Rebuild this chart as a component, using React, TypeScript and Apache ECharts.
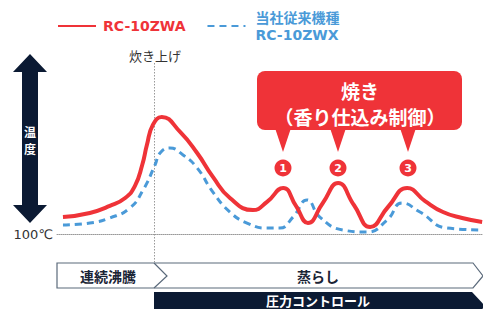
import React, { useEffect, useRef } from "react";
import * as echarts from "echarts";

// relative time (0-100) and relative temperature above 100℃ (0-100)
const redX = [1.4, 7.7, 12.4, 16.0, 18.3, 20.0, 21.1, 22.5, 24.6, 28.9, 32.9, 36.6, 40.6, 46.0, 49.3, 53.1, 56.1, 58.9, 62.4, 66.0, 69.7, 73.5, 77.7, 82.2, 86.4, 90.6, 95.1, 99.8];
const redY = [9.4, 11.7, 15.6, 20.0, 26.7, 38.3, 49.4, 60.6, 65.0, 56.7, 45.0, 31.7, 20.0, 13.3, 17.8, 25.6, 15.6, 6.1, 17.2, 28.3, 16.1, 3.9, 15.0, 25.6, 18.3, 12.2, 8.9, 6.7];
const blueX = [1.4, 7.7, 12.4, 17.1, 20.2, 23.0, 24.2, 26.5, 29.6, 32.9, 36.6, 40.6, 44.6, 49.3, 52.3, 55.4, 58.7, 61.7, 67.1, 72.8, 77.5, 81.0, 85.2, 91.5, 99.8];
const blueY = [5.0, 6.1, 8.9, 14.4, 24.4, 38.3, 45.0, 47.8, 43.9, 36.7, 23.3, 12.2, 6.1, 3.3, 3.3, 9.4, 18.9, 9.4, 2.2, 1.1, 7.8, 17.2, 12.2, 3.3, 2.2];

const seriesNames = ["RC-10ZWA", "当社従来機種\nRC-10ZWX"];
const baseLabel = "100℃";
const startLabel = "炊き上げ";
const calloutTitle = "焼き";
const calloutSub = "（香り仕込み制御）";
const markerNums = ["1", "2", "3"];
const phaseLabels = ["連続沸騰", "蒸らし"];
const pressureLabel = "圧力コントロール";
const axisLabelChars = ["温", "度"];

const RED = "#ef3338";
const BLUE = "#4a9ad8";
const NAVY = "#0b1a33";
const JP = "'Noto Sans CJK JP', sans-serif";

export default function App() {
  const ref = useRef<HTMLDivElement>(null);
  useEffect(() => {
    if (!ref.current) return;
    const chart = echarts.init(ref.current, undefined, { renderer: "svg" });
    const red = redX.map((x, i) => [x, redY[i]]);
    const blue = blueX.map((x, i) => [x, blueY[i]]);
    const markerXs = [283, 338, 408];
    const graphic: any[] = [
      // double arrow
      {
        type: "polygon",
        shape: {
          points: [
            [30, 54], [47, 72], [38, 72], [38, 205], [47, 205], [30, 223],
            [13, 205], [22, 205], [22, 72], [13, 72],
          ],
        },
        style: { fill: NAVY },
      },
      {
        type: "text", x: 30, y: 131,
        style: { text: axisLabelChars[0], fill: "#fff", font: `bold 12px ${JP}`, align: "center", verticalAlign: "middle" },
      },
      {
        type: "text", x: 30, y: 148,
        style: { text: axisLabelChars[1], fill: "#fff", font: `bold 12px ${JP}`, align: "center", verticalAlign: "middle" },
      },
      // start-of-cooking line
      {
        type: "line",
        shape: { x1: 154.5, y1: 63, x2: 154.5, y2: 262 },
        style: { stroke: "#999", lineWidth: 1, lineDash: [1.5, 1.5] },
        z: 1,
      },
      {
        type: "text", x: 155, y: 55,
        style: { text: startLabel, fill: "#333", font: `13px ${JP}`, align: "center", verticalAlign: "middle" },
      },
      // callout
      {
        type: "rect",
        shape: { x: 257, y: 71, width: 205, height: 59, r: 8 },
        style: { fill: RED },
      },
      ...markerXs.map((mx) => ({
        type: "polygon",
        shape: { points: [[mx - 8, 128], [mx + 8, 128], [mx, 152]] },
        style: { fill: RED },
      })),
      {
        type: "text", x: 360, y: 90,
        style: { text: calloutTitle, fill: "#fff", font: `bold 19px ${JP}`, align: "center", verticalAlign: "middle" },
      },
      {
        type: "text", x: 360, y: 116,
        style: { text: calloutSub, fill: "#fff", font: `bold 19px ${JP}`, align: "center", verticalAlign: "middle" },
      },
      ...markerXs.map((mx) => ({
        type: "circle",
        shape: { cx: mx, cy: 168, r: 8.5 },
        style: { fill: RED },
      })),
      ...markerXs.map((mx, i) => ({
        type: "text", x: mx, y: 168,
        style: { text: markerNums[i], fill: "#fff", font: `bold 11px 'DejaVu Sans', sans-serif`, align: "center", verticalAlign: "middle" },
      })),
      // phase bar
      {
        type: "polygon",
        shape: { points: [[57, 263], [473, 263], [483, 276], [473, 288], [57, 288]] },
        style: { fill: "#fff", stroke: "#5b6a7b", lineWidth: 1.2 },
      },
      {
        type: "polyline",
        shape: { points: [[154, 263], [167, 276], [154, 288]] },
        style: { stroke: "#5b6a7b", lineWidth: 1.2, fill: null },
      },
      {
        type: "text", x: 108, y: 276,
        style: { text: phaseLabels[0], fill: "#1a2435", font: `bold 14px ${JP}`, align: "center", verticalAlign: "middle" },
      },
      {
        type: "text", x: 318, y: 276,
        style: { text: phaseLabels[1], fill: "#1a2435", font: `bold 14px ${JP}`, align: "center", verticalAlign: "middle" },
      },
      // pressure bar
      {
        type: "polygon",
        shape: { points: [[154, 292], [472, 292], [485, 306], [472, 320], [154, 320]] },
        style: { fill: NAVY },
      },
      {
        type: "text", x: 318, y: 300,
        style: { text: pressureLabel, fill: "#fff", font: `bold 13px ${JP}`, align: "center", verticalAlign: "middle" },
      },
    ];

    chart.setOption({
      animation: false,
      grid: { left: 57, right: 0, top: 54, bottom: 75, containLabel: false },
      legend: {
        left: 57,
        top: 9,
        padding: 0,
        itemWidth: 38,
        itemHeight: 14,
        itemGap: 21,
        itemStyle: { color: "rgba(0,0,0,0)", borderWidth: 0, opacity: 0 },
        data: [
          { name: seriesNames[0], textStyle: { color: RED, padding: [0, 0, 0, 2] } },
          { name: seriesNames[1], textStyle: { color: BLUE, padding: [0, 0, 0, 5] } },
        ],
        textStyle: {
          fontFamily: "'DejaVu Sans', 'Noto Sans CJK JP', sans-serif",
          fontWeight: "bold",
          fontSize: 14,
          lineHeight: 17,
        },
      },
      xAxis: {
        type: "value",
        min: 0,
        max: 100,
        axisLine: { show: true, lineStyle: { color: "#999", type: "dotted", width: 1 } },
        axisTick: { show: false },
        axisLabel: { show: false },
        splitLine: { show: false },
      },
      yAxis: {
        type: "value",
        min: 0,
        max: 100,
        interval: 100,
        axisLine: { show: false },
        axisTick: { show: false },
        splitLine: { show: false },
        axisLabel: {
          margin: 4,
          color: "#333",
          fontSize: 13,
          fontFamily: "'DejaVu Sans', sans-serif",
          formatter: (v: number) => (v === 0 ? baseLabel : ""),
        },
      },
      series: [
        {
          name: seriesNames[1],
          type: "line",
          data: blue,
          smooth: 0.5,
          symbol: "none",
          clip: false,
          lineStyle: { color: BLUE, width: 3, type: [7, 5] },
          itemStyle: { color: BLUE },
          z: 2,
        },
        {
          name: seriesNames[0],
          type: "line",
          data: red,
          smooth: 0.5,
          symbol: "none",
          clip: false,
          lineStyle: { color: RED, width: 4 },
          itemStyle: { color: RED },
          z: 3,
        },
      ],
      graphic,
    });
    return () => chart.dispose();
  }, []);
  return (
    <div
      ref={ref}
      style={{ position: "fixed", left: 0, top: 0, width: 483, height: 309, background: "#fff" }}
    />
  );
}
